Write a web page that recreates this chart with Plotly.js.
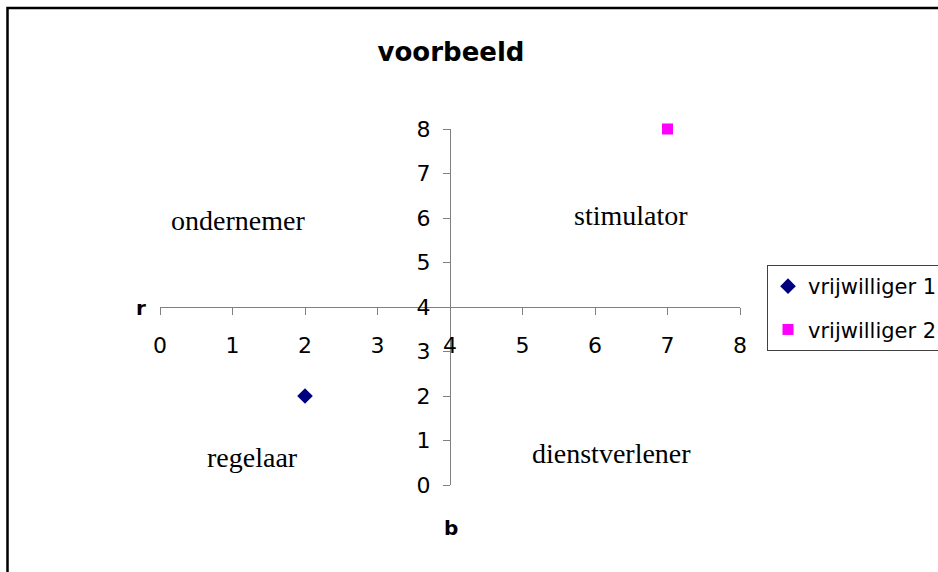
<!DOCTYPE html>
<html>
<head>
<meta charset="utf-8">
<script src="https://cdn.plot.ly/plotly-3.0.1.min.js"></script>
<style>html,body{margin:0;padding:0;background:#fff;}#chart{width:938px;height:572px;}</style>
</head>
<body>
<div id="chart"></div>
<script>
const chartTitle = "voorbeeld";
const xAxisLabel = "b";
const yAxisLabel = "r";
const seriesNames = ["vrijwilliger 1", "vrijwilliger 2"];
const series1X = [2];
const series1Y = [2];
const series2X = [7];
const series2Y = [8];
const tickValues = [0, 1, 2, 3, 4, 5, 6, 7, 8];
const quadrantLabels = ["ondernemer", "stimulator", "regelaar", "dienstverlener"];
const quadrantX = [1.08, 6.5, 1.28, 6.23];
const quadrantY = [5.95, 6.05, 0.61, 0.70];

const W = 938, H = 572;
const m = {l: 160, r: 198, t: 129, b: 87, autoexpand: false};
const pw = W - m.l - m.r, ph = H - m.t - m.b;
const px = v => (v - m.l) / pw;
const py = v => (H - m.b - v) / ph;
const SANS = 'DejaVu Sans, Liberation Sans, Arial, sans-serif';
const SERIF = 'Liberation Serif, Times New Roman, serif';

const traces = [
  {x: series1X, y: series1Y, name: seriesNames[0], legendgroup: 'g1', type: 'scatter', mode: 'markers',
   marker: {symbol: 'diamond', color: '#000080', size: 12}, cliponaxis: false},
  {x: series2X, y: series2Y, name: seriesNames[1], legendgroup: 'g2', type: 'scatter', mode: 'markers',
   marker: {symbol: 'square', color: '#FF00FF', size: 11}, cliponaxis: false}
];

const annotations = quadrantLabels.map((t, i) => ({
  x: quadrantX[i], y: quadrantY[i], xref: 'x', yref: 'y', text: t, showarrow: false,
  xanchor: 'center', yanchor: 'middle',
  font: {family: SERIF, size: 28, color: '#000'}
}));
annotations.push({x: px(141), y: py(308), xref: 'paper', yref: 'paper', text: '<b>' + yAxisLabel + '</b>',
  showarrow: false, xanchor: 'center', yanchor: 'middle', font: {family: SANS, size: 20, color: '#000'}});
annotations.push({x: px(451), y: py(528), xref: 'paper', yref: 'paper', text: '<b>' + xAxisLabel + '</b>',
  showarrow: false, xanchor: 'center', yanchor: 'middle', font: {family: SANS, size: 20, color: '#000'}});

const axisCommon = {
  range: [0, 8], tickvals: tickValues, ticktext: tickValues.map(String),
  showgrid: false, zeroline: false, showline: true, linecolor: '#808080', linewidth: 1,
  ticks: 'outside', ticklen: 7, tickcolor: '#808080', tickwidth: 1,
  tickfont: {family: SANS, size: 22, color: '#000'},
  anchor: 'free', position: 0.5, fixedrange: true, automargin: false
};

const layout = {
  width: W, height: H,
  margin: m,
  paper_bgcolor: '#fff', plot_bgcolor: 'rgba(0,0,0,0)',
  font: {family: SANS, color: '#000'},
  title: {text: '<b>' + chartTitle + '</b>', xref: 'paper', x: px(451), xanchor: 'center',
    yref: 'container', y: 1 - 52 / H, yanchor: 'middle', automargin: false,
    font: {family: SANS, size: 26, color: '#000'}},
  xaxis: Object.assign({}, axisCommon, {ticklabelstandoff: 12}),
  yaxis: Object.assign({}, axisCommon, {ticklabelstandoff: 8}),
  showlegend: true,
  legend: {x: px(767), xanchor: 'left', y: py(265), yanchor: 'top',
    bordercolor: '#404040', borderwidth: 1, bgcolor: '#fff',
    font: {family: SANS, size: 21, color: '#000'},
    itemwidth: 30, tracegroupgap: 13},
  annotations: annotations,
  shapes: [{type: 'rect', xref: 'paper', yref: 'paper', x0: px(7.5), x1: px(960), y0: py(590), y1: py(8),
    line: {color: '#000', width: 2.5}, fillcolor: 'rgba(0,0,0,0)', layer: 'below'}]
};

Plotly.newPlot('chart', traces, layout, {displayModeBar: false, staticPlot: true});
</script>
</body>
</html>
